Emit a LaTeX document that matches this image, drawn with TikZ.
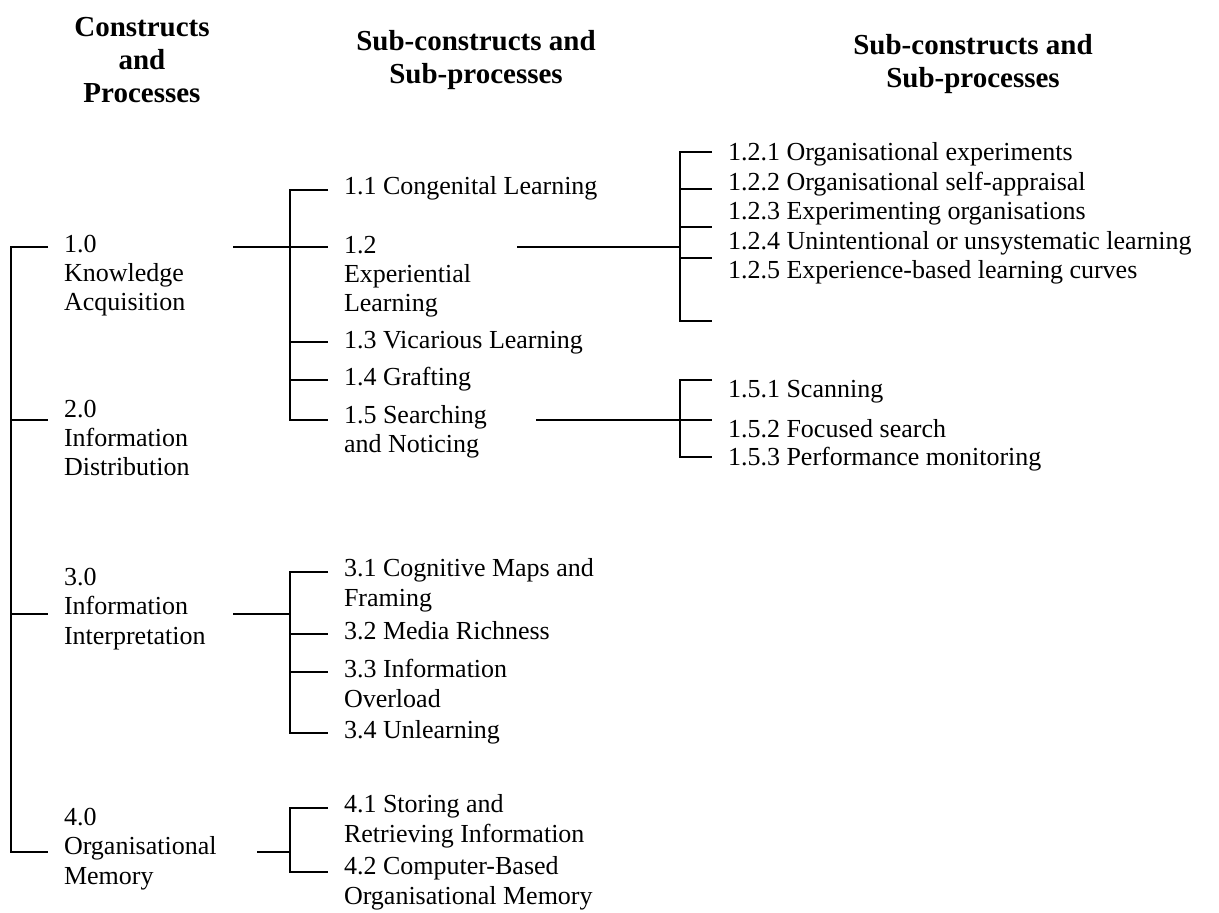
\documentclass[tikz,border=0pt]{standalone}
\usepackage{fontspec}
\setmainfont{Liberation Serif}

\begin{document}
\begin{tikzpicture}[
  x=0.5pt, y=-0.5pt,
  font=\fontsize{13}{14.7}\selectfont,
  line width=1pt,
  head/.style={font=\fontsize{14.5}{16.5}\selectfont\bfseries,align=center,anchor=base,inner sep=0pt},
  item/.style={align=left,anchor=base west,inner ysep=0pt,inner xsep=7.5pt}
]
\useasboundingbox (0,0) rectangle (1219,913);

% ---------------- headers (placed at last baseline) ----------------
\node[head] (h1) at (142,103) {Constructs\\and\\Processes};
\node[head] (h2) at (476,84) {Sub-constructs and\\Sub-processes};
\node[head] (h3) at (973,88) {Sub-constructs and\\Sub-processes};

% ---------------- constructs ----------------
\node[item] (k10) at (48,311) {1.0\\Knowledge\\Acquisition};
\node[item] (k20) at (48,476) {2.0\\Information\\Distribution};
\node[item] (k30) at (48,644) {3.0\\Information\\Interpretation};
\node[item] (k40) at (48,884) {4.0\\Organisational\\Memory};

% ---------------- sub-constructs ----------------
\node[item] (k11) at (328,195) {1.1 Congenital Learning};
\node[item] (k12) at (328,312) {1.2\\Experiential\\Learning};
\node[item] (k13) at (328,349) {1.3 Vicarious Learning};
\node[item] (k14) at (328,386) {1.4 Grafting};
\node[item] (k15) at (328,453) {1.5 Searching\\and Noticing};
\node[item] (k31) at (328,606) {3.1 Cognitive Maps and\\Framing};
\node[item] (k32) at (328,639) {3.2 Media Richness};
\node[item] (k33) at (328,707) {3.3 Information\\Overload};
\node[item] (k34) at (328,738) {3.4 Unlearning};
\node[item] (k41) at (328,842) {4.1 Storing and\\Retrieving Information};
\node[item] (k42) at (328,904) {4.2 Computer-Based\\Organisational Memory};

% ---------------- third level ----------------
\node[item] (k121) at (712,161) {1.2.1 Organisational experiments};
\node[item] (k122) at (712,191) {1.2.2 Organisational self-appraisal};
\node[item] (k123) at (712,220) {1.2.3 Experimenting organisations};
\node[item] (k124) at (712,250) {1.2.4 Unintentional or unsystematic learning};
\node[item] (k125) at (712,279) {1.2.5 Experience-based learning curves};
\node[item] (k151) at (712,398) {1.5.1 Scanning};
\node[item] (k152) at (712,438) {1.5.2 Focused search};
\node[item] (k153) at (712,466) {1.5.3 Performance monitoring};

% ---------------- trunk ----------------
\coordinate (t0) at (11,0);
\draw (k10.west |- 0,247) -| (t0 |- 0,852) -- (k40.west |- 0,852);
\draw (t0 |- 0,420) -- (k20.west |- 0,420);
\draw (t0 |- 0,614) -- (k30.west |- 0,614);

% 1.0 -> 1.x
\coordinate (o10) at (233,247);
\coordinate (j1) at (290,0);
\draw (o10) -- (k12.west |- o10);
\draw (k11.west |- 0,190) -| (j1 |- 0,420) -- (k15.west |- 0,420);
\draw (j1 |- 0,342) -- (k13.west |- 0,342);
\draw (j1 |- 0,380) -- (k14.west |- 0,380);

% 3.0 -> 3.x
\coordinate (o30) at (233,614);
\draw (o30) -- (j1 |- o30);
\draw (k31.west |- 0,572) -| (j1 |- 0,733) -- (k34.west |- 0,733);
\draw (j1 |- 0,634) -- (k32.west |- 0,634);
\draw (j1 |- 0,672) -- (k33.west |- 0,672);

% 4.0 -> 4.x
\coordinate (o40) at (257,852);
\draw (o40) -- (j1 |- o40);
\draw (k41.west |- 0,808) -| (j1 |- 0,872) -- (k42.west |- 0,872);

% 1.2 -> 1.2.x
\coordinate (o12) at (517,247);
\coordinate (j2) at (680,0);
\coordinate (e12) at (712,321);
\draw (o12) -- (j2 |- o12);
\draw (k121.west |- 0,152) -| (j2 |- e12) -- (e12);
\draw (j2 |- 0,189) -- (k122.west |- 0,189);
\draw (j2 |- 0,227) -- (k123.west |- 0,227);
\draw (j2 |- 0,258) -- (k124.west |- 0,258);

% 1.5 -> 1.5.x
\coordinate (o15) at (536,420);
\draw (o15) -- (k152.west |- o15);
\draw (k151.west |- 0,380) -| (j2 |- 0,457) -- (k153.west |- 0,457);
\end{tikzpicture}
\end{document}
